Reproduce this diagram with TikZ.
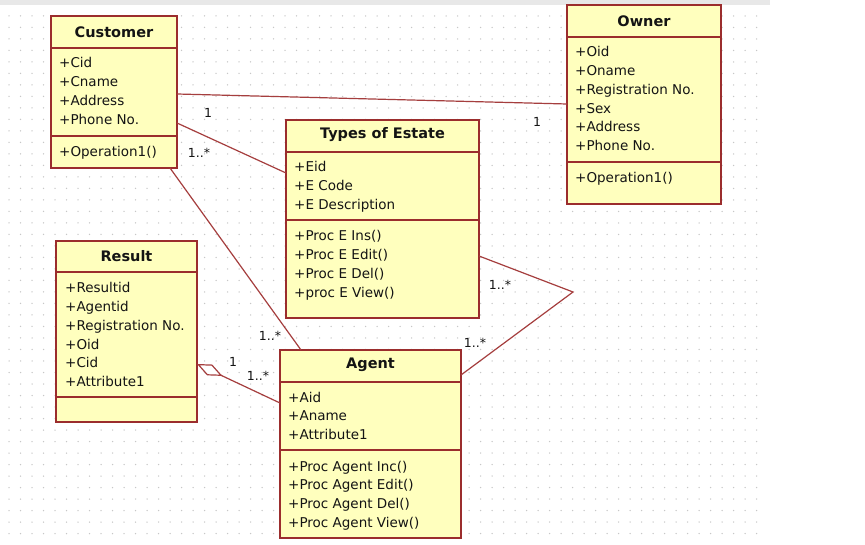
\documentclass[tikz,border=0pt]{standalone}
\usepackage{fontspec}
\setmainfont{DejaVu Sans}
\usetikzlibrary{arrows.meta,calc}
\definecolor{boxfill}{RGB}{255,255,190}
\definecolor{boxline}{RGB}{155,45,45}
\definecolor{linecol}{RGB}{165,62,62}
\definecolor{txtcol}{RGB}{20,20,20}
\begin{document}
\begin{tikzpicture}[x=1pt,y=-1pt,
  cls/.style={draw=boxline, fill=boxfill, line width=1.8pt, inner sep=0pt, outer sep=0pt, anchor=north west},
  div/.style={draw=boxline, line width=1.8pt},
  ttl/.style={font=\fontsize{14.5}{17}\selectfont\bfseries, text=txtcol, inner sep=0pt},
  txt/.style={font=\fontsize{13.5}{16}\selectfont, text=txtcol, inner sep=0pt, anchor=base west},
  mult/.style={font=\fontsize{12.5}{14}\selectfont, text=txtcol, inner sep=0pt},
  assoc/.style={draw=linecol, line width=1.2pt},
]
\useasboundingbox (0,0) rectangle (865,545);
\fill[white] (0,0) rectangle (865,545);
\fill[black!9] (0,0) rectangle (770,5);
\foreach \gx in {0,...,65} \foreach \gy in {0,...,45}
  \fill[black!22] ({9+11.5*\gx},{16+11.5*\gy}) circle (0.75);

% ---------- class boxes (frames) ----------
\node[cls, minimum width=126pt, minimum height=152pt] (cust) at (51,16) {};
\node[cls, minimum width=154pt, minimum height=199pt] (owner) at (567,5) {};
\node[cls, minimum width=193pt, minimum height=198pt] (types) at (286,120) {};
\node[cls, minimum width=141pt, minimum height=181pt] (result) at (56,241) {};
\node[cls, minimum width=181pt, minimum height=188pt] (agent) at (280,350) {};

% ---------- connectors ----------
\coordinate (bend) at (573,292);
\draw[assoc] ([yshift=-78pt]cust.north east) -- ([yshift=-99pt]owner.north west);
\draw[assoc] ([yshift=-107pt]cust.north east) -- ([yshift=-53pt]types.north west);
\draw[assoc] ([xshift=-7pt]cust.south east) -- ([xshift=21pt]agent.north west);
\draw[assoc] ([yshift=-136pt]types.north east) -- (bend) -- ([yshift=-25pt]agent.north east);
\draw[assoc, -{Diamond[open, fill=white, length=28pt, width=12pt, line width=1.2pt]}]
  ([yshift=-53pt]agent.north west) -- ([yshift=-123pt]result.north east);

% dividers
\draw[div] ([yshift=-32pt]cust.north west) -- ([yshift=-32pt]cust.north east);
\draw[div] ([yshift=-120pt]cust.north west) -- ([yshift=-120pt]cust.north east);
\draw[div] ([yshift=-32pt]owner.north west) -- ([yshift=-32pt]owner.north east);
\draw[div] ([yshift=-157pt]owner.north west) -- ([yshift=-157pt]owner.north east);
\draw[div] ([yshift=-32pt]types.north west) -- ([yshift=-32pt]types.north east);
\draw[div] ([yshift=-100pt]types.north west) -- ([yshift=-100pt]types.north east);
\draw[div] ([yshift=-31pt]result.north west) -- ([yshift=-31pt]result.north east);
\draw[div] ([yshift=-156pt]result.north west) -- ([yshift=-156pt]result.north east);
\draw[div] ([yshift=-32pt]agent.north west) -- ([yshift=-32pt]agent.north east);
\draw[div] ([yshift=-100pt]agent.north west) -- ([yshift=-100pt]agent.north east);

% titles
\node[ttl] (custT) at ([yshift=-16pt]cust.north) {Customer};
\node[ttl] (ownerT) at ([yshift=-16pt]owner.north) {Owner};
\node[ttl] (typesT) at ([yshift=-15pt]types.north) {Types of Estate};
\node[ttl] (resultT) at ([yshift=-15pt]result.north) {Result};
\node[ttl] (agentT) at ([yshift=-15pt]agent.north) {Agent};

% members
\foreach \t [count=\i from 0] in {+Cid,+Cname,+Address,+Phone No.}
  \node[txt] (custA\i) at (59,{68+18.7*\i}) {\t};
\node[txt] (custO) at (59,157) {+Operation1()};

\foreach \t [count=\i from 0] in {+Oid,+Oname,+Registration No.,+Sex,+Address,+Phone No.}
  \node[txt] (ownerA\i) at (575,{57+18.7*\i}) {\t};
\node[txt] (ownerO) at (575,183) {+Operation1()};

\foreach \t [count=\i from 0] in {+Eid,+E Code,+E Description}
  \node[txt] (typesA\i) at (294,{172+18.7*\i}) {\t};
\foreach \t [count=\i from 0] in {+Proc E Ins(),+Proc E Edit(),+Proc E Del(),+proc E View()}
  \node[txt] (typesO\i) at (294,{241+18.7*\i}) {\t};

\foreach \t [count=\i from 0] in {+Resultid,+Agentid,+Registration No.,+Oid,+Cid,+Attribute1}
  \node[txt] (resultA\i) at (65,{293+18.7*\i}) {\t};

\foreach \t [count=\i from 0] in {+Aid,+Aname,+Attribute1}
  \node[txt] (agentA\i) at (288,{402+18.7*\i}) {\t};
\foreach \t [count=\i from 0] in {+Proc Agent Inc(),+Proc Agent Edit(),+Proc Agent Del(),+Proc Agent View()}
  \node[txt] (agentO\i) at (288,{471+18.7*\i}) {\t};

% multiplicities
\node[mult] (m1) at (208,113) {1};
\node[mult] (m2) at (537,122) {1};
\node[mult] (m3) at (199,153) {1..*};
\node[mult] (m4) at (270,336) {1..*};
\node[mult] (m5) at (233,362) {1};
\node[mult] (m6) at (258,376) {1..*};
\node[mult] (m7) at (500,285) {1..*};
\node[mult] (m8) at (475,343) {1..*};
\end{tikzpicture}
\end{document}
